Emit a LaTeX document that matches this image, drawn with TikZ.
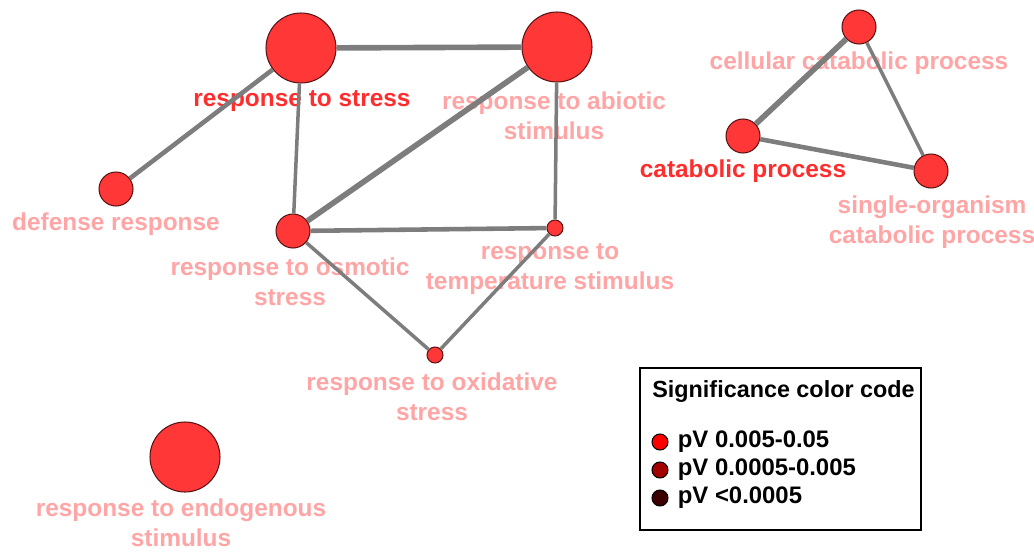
\documentclass[tikz,border=0pt]{standalone}
\usepackage{fontspec}
\setmainfont{Liberation Sans}
\usepackage{xcolor}
\usepackage{tikz}
\usetikzlibrary{calc,positioning}

\definecolor{termfill}{RGB}{255,55,55}
\definecolor{termedge}{RGB}{90,20,20}
\definecolor{labelpink}{RGB}{255,165,165}
\definecolor{labelred}{RGB}{255,45,45}
\definecolor{linkgray}{RGB}{125,125,125}
\definecolor{sigA}{RGB}{255,0,0}
\definecolor{sigB}{RGB}{165,0,0}
\definecolor{sigC}{RGB}{60,0,0}

\tikzset{
  term/.style={circle, draw=termedge, line width=0.6pt, fill=termfill, inner sep=0pt},
  bigterm/.style={term, minimum size=1.4cm},
  midterm/.style={term, minimum size=0.68cm},
  smallterm/.style={term, minimum size=0.32cm},
  termtext/.style={text=labelpink, font=\fontsize{13.9}{17}\selectfont\bfseries, align=center, inner sep=0pt},
  keytext/.style={termtext, text=labelred},
  link/.style={draw=linkgray, line width=2pt},
  thicklink/.style={draw=linkgray, line width=2.6pt},
  heavylink/.style={draw=linkgray, line width=3.2pt},
  sigdot/.style={circle, draw=black, line width=0.6pt, inner sep=0pt, minimum size=0.32cm},
  sigtext/.style={font=\fontsize{13.6}{17}\selectfont\bfseries, anchor=west, inner sep=0pt}
}

\begin{document}
\begin{tikzpicture}[x=0.02cm, y=-0.02cm]
  \useasboundingbox (0,0) rectangle (1034,551);

  % labels
  \node[keytext] (stressL) at (302,101) {response to stress};
  \node[termtext] (abioticL) at (554,116) {response to abiotic\\stimulus};
  \node[termtext] (defenseL) at (116,224) {defense response};
  \node[termtext] (osmoticL) at (290,282) {response to osmotic\\stress};
  \node[termtext] (tempL) at (550,269) {response to\\temperature stimulus};
  \node[termtext] (oxidL) at (432,397) {response to oxidative\\stress};
  \node[termtext] (endoL) at (181,523) {response to endogenous\\stimulus};
  \node[termtext] (cellcatL) at (859,63) {cellular catabolic process};
  \node[keytext] (catL) at (743,171) {catabolic process};
  \node[termtext] (singleL) at (932,222) {single-organism\\catabolic process};

  % terms
  \node[bigterm] (stress) at (301,48) {};
  \node[bigterm] (abiotic) at (557,47) {};
  \node[midterm] (defense) at (116,189) {};
  \node[midterm] (osmotic) at (293,231) {};
  \node[smallterm] (temp) at (555,228) {};
  \node[smallterm] (oxid) at (435,355) {};
  \node[bigterm] (endo) at (185,457) {};
  \node[midterm] (cellcat) at (859,27) {};
  \node[midterm] (cat) at (743,136) {};
  \node[midterm] (single) at (931,171) {};

  % links
  \draw[heavylink] (stress) -- (abiotic);
  \draw[heavylink] (abiotic) -- (osmotic);
  \draw[thicklink] (stress) -- (defense);
  \draw[link] (stress) -- (osmotic);
  \draw[link] (abiotic) -- (temp);
  \draw[thicklink] (osmotic) -- (temp);
  \draw[link] (osmotic) -- (oxid);
  \draw[link] (temp) -- (oxid);
  \draw[heavylink] (cellcat) -- (cat);
  \draw[link] (cellcat) -- (single);
  \draw[thicklink] (cat) -- (single);

  % legend
  \node[draw=black, line width=1.1pt, minimum width=5.62cm, minimum height=3.24cm, inner sep=0pt] (legend) at (780.5,449) {};
  \node[font=\fontsize{13.3}{17}\selectfont\bfseries, anchor=west, inner sep=0pt] (legendT) at (652,392) {Significance color code};
  \node[sigdot, fill=sigA] (sigAdot) at (660,442) {};
  \node[sigdot, fill=sigB] (sigBdot) at (660,470) {};
  \node[sigdot, fill=sigC] (sigCdot) at (660,498) {};
  \node[sigtext, right=0.18cm of sigAdot] (sigAL) {pV 0.005-0.05};
  \node[sigtext, right=0.18cm of sigBdot] (sigBL) {pV 0.0005-0.005};
  \node[sigtext, right=0.18cm of sigCdot] (sigCL) {pV <0.0005};
\end{tikzpicture}
\end{document}
